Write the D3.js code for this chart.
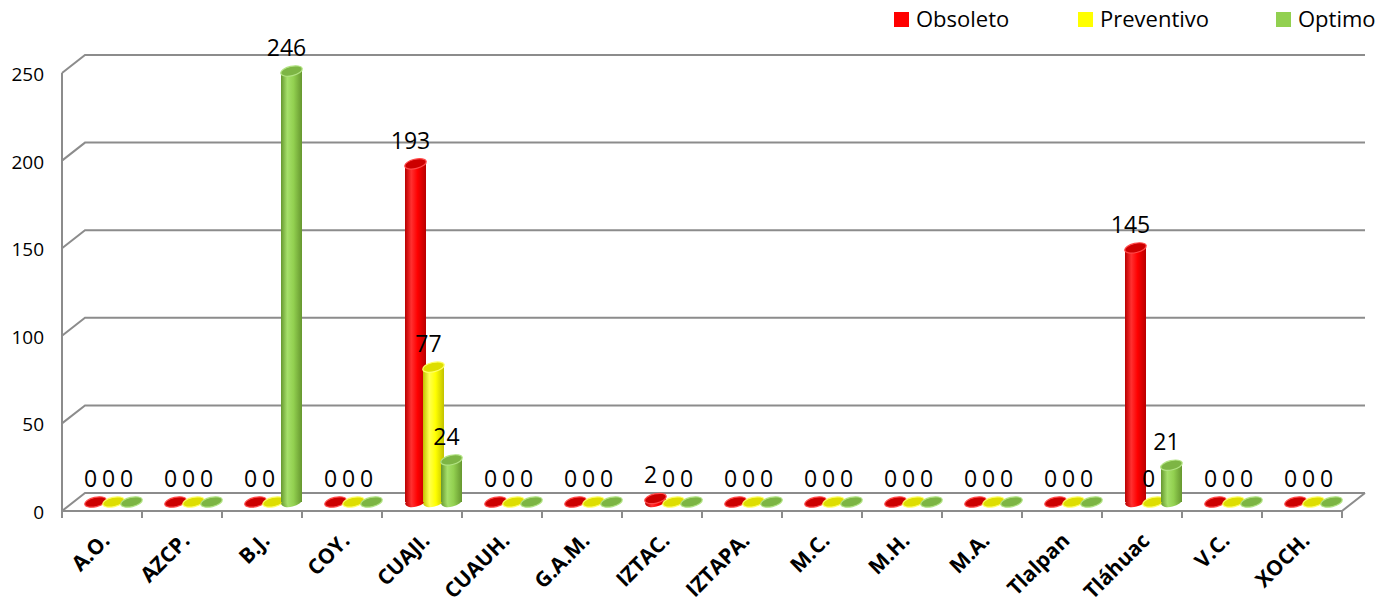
<!DOCTYPE html>
<html>
<head>
<meta charset="utf-8">
<script src="https://cdn.jsdelivr.net/npm/d3@7"></script>
<style>
  html, body { margin: 0; padding: 0; background: #fff; }
  svg { display: block; }
  text { font-family: "Open Sans", "Liberation Sans", sans-serif; fill: #000; }
</style>
</head>
<body>
<svg id="chart" width="1381" height="607"></svg>
<script>
// Categories (alcaldías) and series
const categories = ["A.O.", "AZCP.", "B.J.", "COY.", "CUAJI.", "CUAUH.", "G.A.M.", "IZTAC.",
                    "IZTAPA.", "M.C.", "M.H.", "M.A.", "Tlalpan", "Tláhuac", "V.C.", "XOCH."];
const seriesNames = ["Obsoleto", "Preventivo", "Optimo"];
const obsoleto   = [0, 0, 0, 0, 193, 0, 0, 2, 0, 0, 0, 0, 0, 145, 0, 0];
const preventivo = [0, 0, 0, 0, 77, 0, 0, 0, 0, 0, 0, 0, 0, 0, 0, 0];
const optimo     = [0, 0, 246, 0, 24, 0, 0, 0, 0, 0, 0, 0, 0, 21, 0, 0];
const yTicks = [0, 50, 100, 150, 200, 250];

const seriesValues = [obsoleto, preventivo, optimo];
const palette = {
  Obsoleto:   { dark: "#b80000", light: "#ff3030", mid: "#ff0000", top: "#cc0000", rim: "#ff4a4a" },
  Preventivo: { dark: "#c2c200", light: "#ffff50", mid: "#ffff00", top: "#dede00", rim: "#ffff66" },
  Optimo:     { dark: "#66972f", light: "#a6e06a", mid: "#92d050", top: "#7db544", rim: "#b2e383" }
};

const svg = d3.select("#chart");

// Front plane of the box and perspective depth offset
const depthX = 23, depthY = -18;
const x = d3.scaleBand().domain(categories).range([62, 1342]);
const y = d3.scaleLinear().domain([0, 250]).range([511, 73]);
const off = d3.scalePoint().domain(seriesNames).range([-18, 18]);
const barW = 21, ellRy = 4.7, tilt = -13;

// Gradients for cylinder shading
const defs = svg.append("defs");
seriesNames.forEach(s => {
  const p = palette[s];
  const g = defs.append("linearGradient").attr("id", "grad-" + s)
    .attr("x1", 0).attr("x2", 1).attr("y1", 0).attr("y2", 0);
  g.append("stop").attr("offset", 0).attr("stop-color", p.dark);
  g.append("stop").attr("offset", 0.3).attr("stop-color", p.light);
  g.append("stop").attr("offset", 0.6).attr("stop-color", p.mid);
  g.append("stop").attr("offset", 1).attr("stop-color", p.dark);
});

// Walls: gridlines with the diagonal on the side wall
const grid = svg.append("g").attr("fill", "none").attr("stroke", "#8c8c8c").attr("stroke-width", 2);
yTicks.forEach(t => {
  const y0 = y(t);
  grid.append("path").attr("d",
    `M${x.range()[0]},${y0} L${x.range()[0] + depthX},${y0 + depthY} L${x.range()[1] + depthX},${y0 + depthY}`);
});
// Side wall front edge
grid.append("line").attr("x1", 62).attr("x2", 62).attr("y1", y(250)).attr("y2", y(0));
// Floor front edge and right edge
grid.append("path").attr("d",
  `M${x.range()[0]},${y(0)} L${x.range()[1]},${y(0)} L${x.range()[1] + depthX},${y(0) + depthY}`);
// Category tick marks
const tickXs = categories.map(c => x(c)).concat([x.range()[1]]);
grid.selectAll("line.tick").data(tickXs).enter().append("line")
  .attr("x1", d => d).attr("x2", d => d).attr("y1", y(0)).attr("y2", y(0) + 7);

// Value axis labels
svg.append("g").selectAll("text").data(yTicks).enter().append("text")
  .attr("x", 44).attr("y", d => y(d) + 3)
  .attr("text-anchor", "end").attr("dominant-baseline", "middle")
  .style("font-size", "19px").text(d => d);

// Category labels
svg.append("g").selectAll("text").data(categories).enter().append("text")
  .attr("transform", c => `translate(${x(c) + x.bandwidth() / 2 + 9},542) rotate(-45)`)
  .attr("text-anchor", "end")
  .style("font-size", "21px").style("font-weight", "bold").text(c => c);

// Bars as cylinders at mid-depth
const bars = [];
categories.forEach((c, i) => {
  seriesNames.forEach((s, k) => {
    const v = seriesValues[k][i];
    const cx = x(c) + x.bandwidth() / 2 + off(s) + depthX / 2;
    const base = y(0) + depthY / 2;
    const top = y(v) + depthY / 2;
    bars.push({ c, s, v, cx, base, top });
  });
});

const barG = svg.append("g");
bars.forEach(b => {
  const g = barG.append("g");
  const p = palette[b.s];
  if (b.v > 0) {
    g.append("ellipse").attr("cx", b.cx).attr("cy", b.base).attr("rx", barW / 2).attr("ry", ellRy)
      .attr("transform", `rotate(${tilt},${b.cx},${b.base})`)
      .attr("fill", `url(#grad-${b.s})`);
    g.append("rect").attr("x", b.cx - barW / 2).attr("y", b.top)
      .attr("width", barW).attr("height", b.base - b.top)
      .attr("fill", `url(#grad-${b.s})`);
  }
  g.append("ellipse").attr("cx", b.cx).attr("cy", b.top).attr("rx", barW / 2 + 0.5).attr("ry", ellRy)
    .attr("transform", `rotate(${tilt},${b.cx},${b.top})`)
    .attr("fill", p.top).attr("stroke", p.rim).attr("stroke-width", 1.2);
});

// Value labels
svg.append("g").selectAll("text").data(bars).enter().append("text")
  .attr("x", d => d.cx - 5).attr("y", d => d.top - 15)
  .attr("text-anchor", "middle").style("font-size", "23px").text(d => d.v);

// Legend
const legendX = [894, 1078, 1276];
const legend = svg.append("g");
seriesNames.forEach((s, k) => {
  legend.append("rect").attr("x", legendX[k]).attr("y", 12).attr("width", 15).attr("height", 15)
    .attr("fill", palette[s].mid);
  legend.append("text").attr("x", legendX[k] + 22).attr("y", 27)
    .style("font-size", "22px").text(s);
});
</script>
</body>
</html>
